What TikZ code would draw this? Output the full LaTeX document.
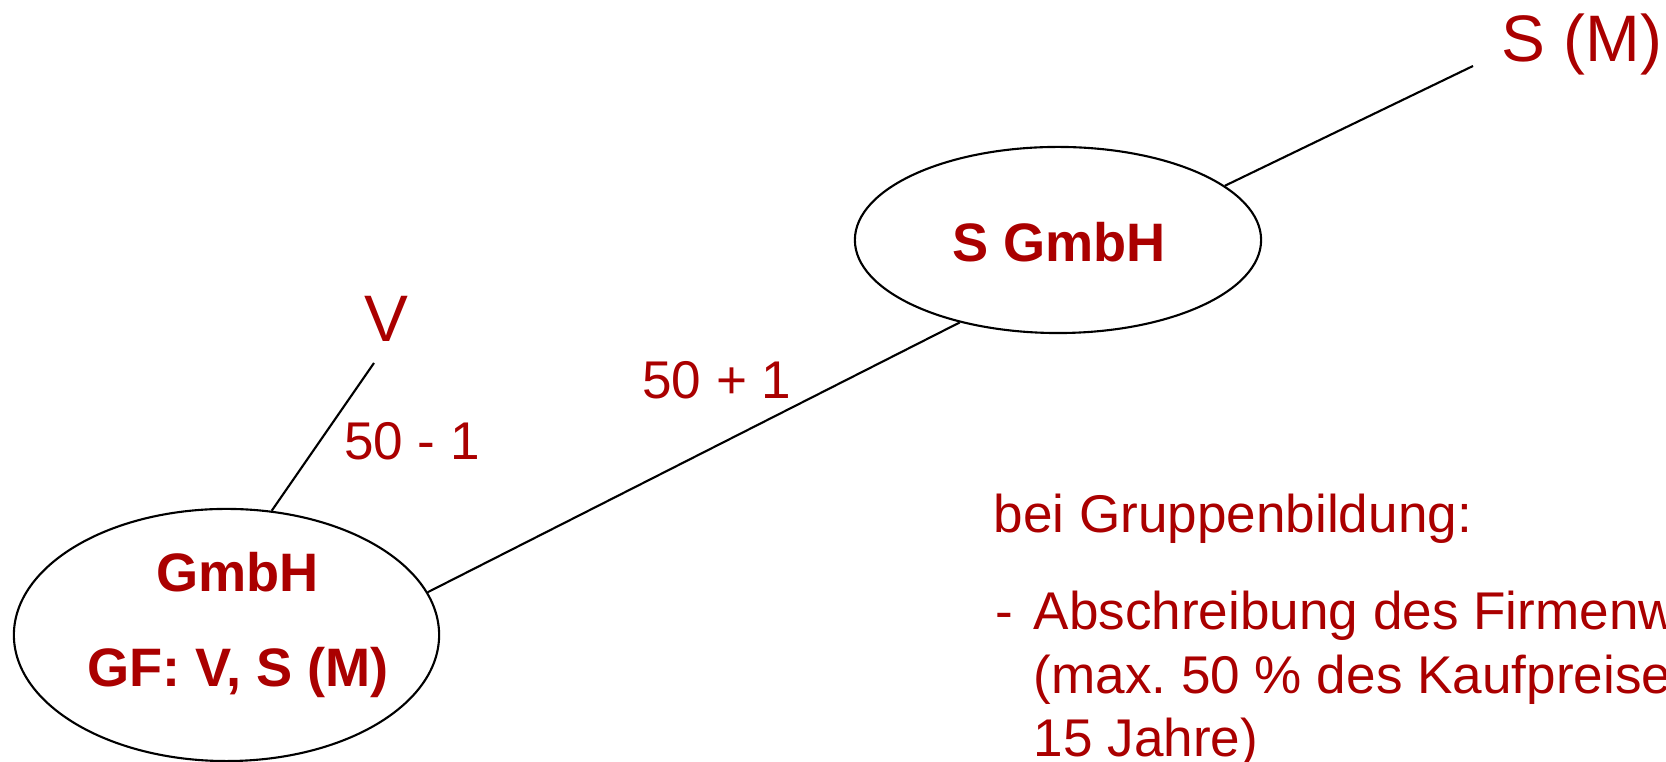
\documentclass[tikz,border=0pt]{standalone}
\usepackage{fontspec}
\setmainfont{Liberation Sans}
\usetikzlibrary{shapes.geometric}
\frenchspacing

\definecolor{firmred}{RGB}{170,0,0}

\begin{document}
\begin{tikzpicture}[x=0.01cm, y=-0.01cm,
  firm/.style={ellipse, draw, line width=0.6pt, inner sep=0pt},
  firmname/.style={text=firmred, inner sep=0pt, anchor=base,
    font=\fontsize{15.4pt}{18pt}\selectfont\bfseries},
  owner/.style={text=firmred, inner sep=0pt, anchor=base,
    font=\fontsize{18.7pt}{22pt}\selectfont},
  share/.style={text=firmred, inner sep=0pt, anchor=base,
    font=\fontsize{15.1pt}{18pt}\selectfont},
  note/.style={share, anchor=base west}]
\def\xr{1033};
\def\dl{63.5};

\clip (0,0) rectangle (1666,762);

% the two companies
\node[firm, minimum width=4.25cm, minimum height=2.52cm] (gmbh) at (226.5,635) {};
\node[firm, minimum width=4.06cm, minimum height=1.86cm] (sgmbh) at (1058,240) {};

\node[firmname] (gmbhname) at (237.5,592) {GmbH};
\node[firmname] (gmbhgf) at (238,687) {GF: V, S (M)};
\node[firmname] (sgmbhname) at (1059,262) {S GmbH};

% owners
\node[owner] (v) at (386,342) {V};
\node[owner] (sm) at (1582,62) {S (M)};
\coordinate (vend) at (374,363);
\coordinate (smend) at (1473,66);

\draw[line width=0.6pt] (vend) -- (gmbh.70);
\draw[line width=0.6pt] (gmbh.12.4) -- (sgmbh.220);
\draw[line width=0.6pt] (sgmbh.18) -- (smend);

% shares in percent
\node[share] (vshare) at (412,460) {50 - 1};
\node[share] (sshare) at (717,399) {50 + 1};

% note on the right
\node[note] (grp) at (993,533) {bei Gruppenbildung:};
\node[note] (dash) at (995,630) {-};
\node[note] (afa1) at (\xr,630) {Abschreibung des Firmenwertes};
\node[note] (afa2) at (\xr,630+\dl) {(max. 50 \% des Kaufpreises über};
\node[note] (afa3) at (\xr,630+2*\dl) {15 Jahre)};

\end{tikzpicture}
\end{document}
